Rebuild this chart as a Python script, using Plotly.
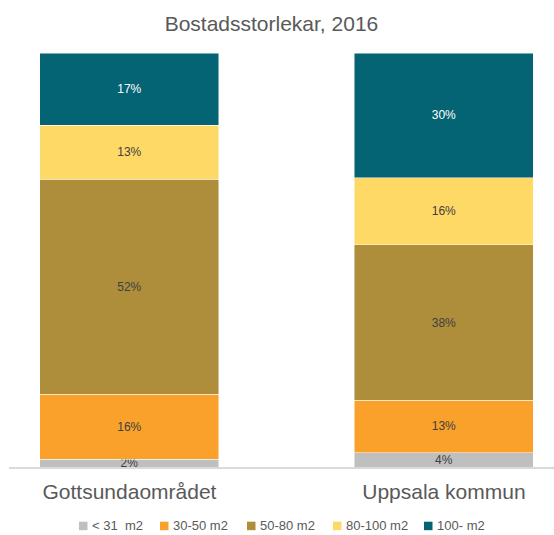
import plotly.graph_objects as go

categories = ["Gottsundaområdet", "Uppsala kommun"]
series_names = ["< 31  m2", "30-50 m2", "50-80 m2", "80-100 m2", "100- m2"]
v_lt31 = [1.9, 3.5]
v_30_50 = [15.7, 12.6]
v_50_80 = [51.9, 37.6]
v_80_100 = [13.1, 16.2]
v_100 = [17.4, 30.1]
series_values = [v_lt31, v_30_50, v_50_80, v_80_100, v_100]
colors = ["#BFBFBF", "#F9A12A", "#AE8D3B", "#FFD966", "#046473"]
text_colors = ["#404040", "#404040", "#404040", "#404040", "#FFFFFF"]

W, H = 554, 535
ML, MR, MT, MB = 9, 0, 53, 67.5
PW, PH = W - ML - MR, H - MT - MB

fig = go.Figure()
for name, vals, col, tc in zip(series_names, series_values, colors, text_colors):
    fig.add_trace(go.Bar(
        x=categories, y=vals, name=name,
        marker=dict(color=col, line=dict(color="rgba(255,255,255,0.6)", width=0.8)),
        text=[f"{round(v):d}%" for v in vals],
        textposition="inside", insidetextanchor="middle",
        textfont=dict(color=tc, size=12, family="Liberation Sans"),
        width=0.569, constraintext="none",
        hoverinfo="skip", showlegend=False,
    ))

# custom legend (small squares + text), positioned in pixels
legend_sq_x = [79, 160, 247, 333, 424]
legend_y = 526.5
sq = 8.5
for name, col, sx in zip(series_names, colors, legend_sq_x):
    x0 = (sx - ML) / PW
    x1 = (sx + sq - ML) / PW
    y0 = (H - MB - (legend_y + sq / 2)) / PH
    y1 = (H - MB - (legend_y - sq / 2)) / PH
    fig.add_shape(type="rect", xref="paper", yref="paper", x0=x0, x1=x1, y0=y0, y1=y1,
                  fillcolor=col, line=dict(width=0))
    fig.add_annotation(text=name, xref="paper", yref="paper",
                       x=(sx + sq + 3 - ML) / PW, y=(H - MB - legend_y) / PH,
                       xanchor="left", yanchor="middle", showarrow=False, borderpad=0,
                       font=dict(size=13, color="#595959", family="Liberation Sans"))

fig.update_layout(
    barmode="stack",
    width=W, height=H,
    margin=dict(l=ML, r=MR, t=MT, b=MB),
    paper_bgcolor="white", plot_bgcolor="white",
    title=dict(text="Bostadsstorlekar, 2016", x=0.49, xanchor="center", y=0.956, yanchor="middle",
               font=dict(size=21, color="#595959", family="Liberation Sans")),
    showlegend=False,
    xaxis=dict(range=[-0.383, 1.35], showline=True, linecolor="#D9D9D9", linewidth=1.5,
               tickfont=dict(size=21, color="#595959", family="Liberation Sans"),
               ticks="outside", ticklen=5, tickcolor="rgba(0,0,0,0)", showgrid=False),
    yaxis=dict(range=[0, 100], visible=False, showgrid=False),
)

fig.write_html("out.html", config={"displayModeBar": False},
               post_script="document.body.style.margin='0';")
